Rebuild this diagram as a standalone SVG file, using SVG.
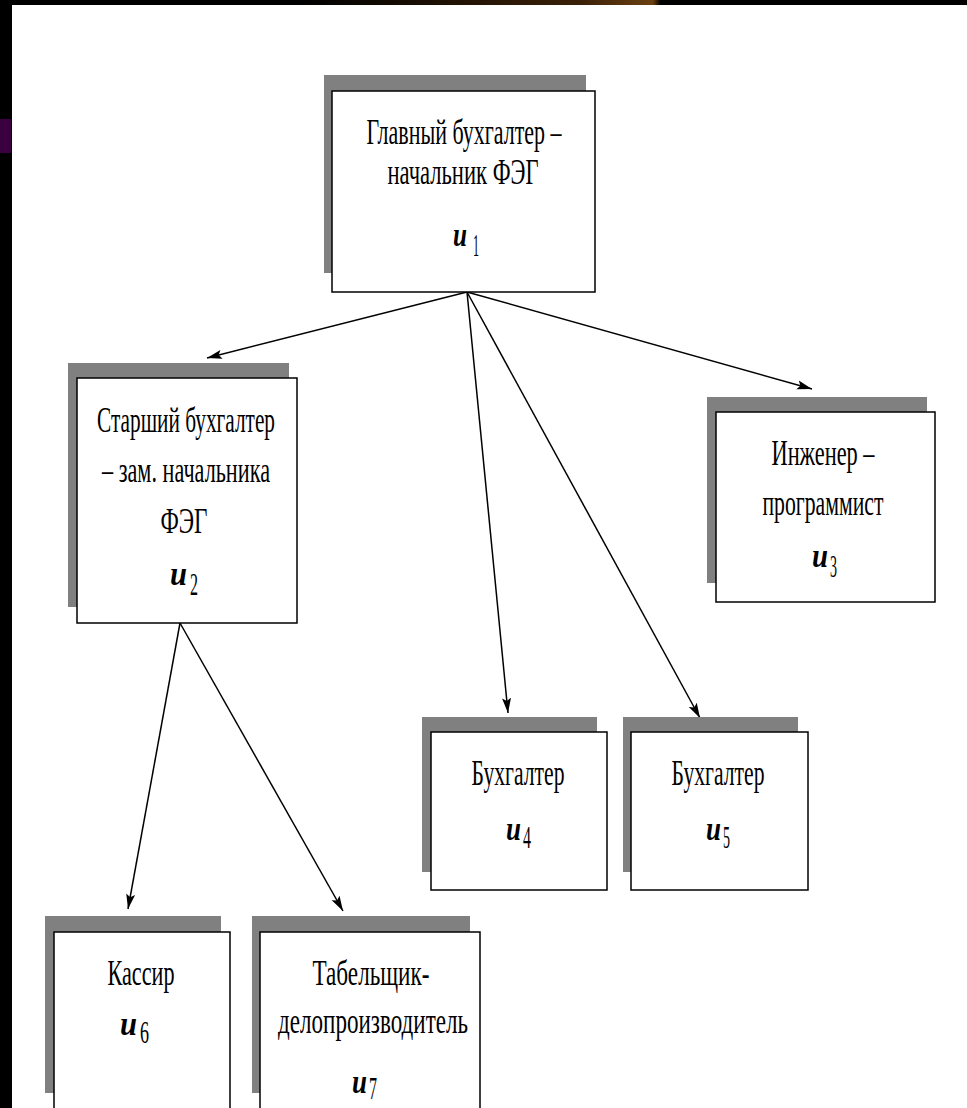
<svg xmlns="http://www.w3.org/2000/svg" width="967" height="1108" viewBox="0 0 967 1108">
  <style>
    .shadow { fill: #808080; }
    .box { fill: #ffffff; stroke: #000000; stroke-width: 1.5; }
    .t { font-family: "Liberation Serif", "Times New Roman", serif; font-size: 36px; fill: #000000; text-anchor: middle; }
    .u { font-family: "Liberation Serif", "Times New Roman", serif; font-size: 34px; font-weight: bold; font-style: italic; fill: #000000; }
    .sub { font-family: "Liberation Serif", "Times New Roman", serif; font-size: 31px; fill: #000000; }
    .edge { stroke: #000000; stroke-width: 1.5; fill: none; marker-end: url(#arrow); }
  </style>
  <defs>
    <marker id="arrow" markerUnits="userSpaceOnUse" markerWidth="16" markerHeight="10" refX="15" refY="5" orient="auto">
      <path d="M0,0.5 L15,5 L0,9.5 L3,5 z" fill="#000000"/>
    </marker>
    <linearGradient id="topGlow" x1="0" y1="0" x2="1" y2="0">
      <stop offset="0" stop-color="#000000"/>
      <stop offset="0.31" stop-color="#000000"/>
      <stop offset="0.6" stop-color="#3a2008"/>
      <stop offset="0.675" stop-color="#6b4010"/>
      <stop offset="0.683" stop-color="#000000"/>
      <stop offset="1" stop-color="#000000"/>
    </linearGradient>
  </defs>

  <!-- page -->
  <rect x="0" y="0" width="967" height="1108" fill="#ffffff"/>
  <rect x="0" y="0" width="967" height="5" fill="url(#topGlow)"/>
  <rect x="0" y="0" width="12" height="1108" fill="#000000"/>
  <rect x="0" y="119" width="11" height="34" fill="#3a0040"/>

  <!-- connectors -->
  <g id="connectors">
    <line class="edge" x1="467" y1="292" x2="207" y2="358"/>
    <line class="edge" x1="467" y1="292" x2="508" y2="713"/>
    <line class="edge" x1="467" y1="292" x2="700" y2="718"/>
    <line class="edge" x1="467" y1="292" x2="812" y2="389"/>
    <line class="edge" x1="180" y1="623" x2="128" y2="909"/>
    <line class="edge" x1="180" y1="623" x2="343" y2="911"/>
  </g>

  <!-- u1: chief accountant -->
  <g id="node-u1">
    <rect class="shadow" x="324" y="75" width="262" height="198"/>
    <rect class="box" x="332" y="91" width="263" height="201"/>
    <text class="t" x="464" y="144" textLength="195" lengthAdjust="spacingAndGlyphs">Главный бухгалтер –</text>
    <text class="t" x="463" y="184" textLength="151" lengthAdjust="spacingAndGlyphs">начальник ФЭГ</text>
    <text class="u" x="453" y="246" textLength="14" lengthAdjust="spacingAndGlyphs">u</text>
    <text class="sub" x="473" y="256" textLength="6" lengthAdjust="spacingAndGlyphs">1</text>
  </g>

  <!-- u2: senior accountant -->
  <g id="node-u2">
    <rect class="shadow" x="68" y="363" width="221" height="244"/>
    <rect class="box" x="77" y="378" width="220" height="245"/>
    <text class="t" x="186" y="432" textLength="178" lengthAdjust="spacingAndGlyphs">Старший бухгалтер</text>
    <text class="t" x="186" y="482" textLength="168" lengthAdjust="spacingAndGlyphs">– зам. начальника</text>
    <text class="t" x="184" y="533" textLength="47" lengthAdjust="spacingAndGlyphs">ФЭГ</text>
    <text class="u" x="170" y="585" textLength="17" lengthAdjust="spacingAndGlyphs">u</text>
    <text class="sub" x="190" y="595" textLength="8" lengthAdjust="spacingAndGlyphs">2</text>
  </g>

  <!-- u3: engineer-programmer -->
  <g id="node-u3">
    <rect class="shadow" x="707" y="397" width="220" height="186"/>
    <rect class="box" x="716" y="412" width="219" height="190"/>
    <text class="t" x="823" y="465" textLength="103" lengthAdjust="spacingAndGlyphs">Инженер –</text>
    <text class="t" x="823" y="515" textLength="121" lengthAdjust="spacingAndGlyphs">программист</text>
    <text class="u" x="812" y="567" textLength="16" lengthAdjust="spacingAndGlyphs">u</text>
    <text class="sub" x="830" y="577" textLength="7" lengthAdjust="spacingAndGlyphs">3</text>
  </g>

  <!-- u4: accountant -->
  <g id="node-u4">
    <rect class="shadow" x="422" y="717" width="175" height="155"/>
    <rect class="box" x="431" y="732" width="176" height="158"/>
    <text class="t" x="518" y="785" textLength="93" lengthAdjust="spacingAndGlyphs">Бухгалтер</text>
    <text class="u" x="506" y="840" textLength="15" lengthAdjust="spacingAndGlyphs">u</text>
    <text class="sub" x="523" y="848" textLength="8" lengthAdjust="spacingAndGlyphs">4</text>
  </g>

  <!-- u5: accountant -->
  <g id="node-u5">
    <rect class="shadow" x="623" y="717" width="175" height="155"/>
    <rect class="box" x="631" y="732" width="177" height="158"/>
    <text class="t" x="718" y="785" textLength="93" lengthAdjust="spacingAndGlyphs">Бухгалтер</text>
    <text class="u" x="706" y="840" textLength="15" lengthAdjust="spacingAndGlyphs">u</text>
    <text class="sub" x="723" y="848" textLength="7" lengthAdjust="spacingAndGlyphs">5</text>
  </g>

  <!-- u6: cashier -->
  <g id="node-u6">
    <rect class="shadow" x="45" y="916" width="176" height="177"/>
    <rect class="box" x="54" y="932" width="176" height="190"/>
    <text class="t" x="141" y="985" textLength="67" lengthAdjust="spacingAndGlyphs">Кассир</text>
    <text class="u" x="120" y="1035" textLength="17" lengthAdjust="spacingAndGlyphs">u</text>
    <text class="sub" x="140" y="1043" textLength="9" lengthAdjust="spacingAndGlyphs">6</text>
  </g>

  <!-- u7: timekeeper-clerk -->
  <g id="node-u7">
    <rect class="shadow" x="252" y="916" width="218" height="177"/>
    <rect class="box" x="260" y="932" width="220" height="190"/>
    <text class="t" x="371" y="985" textLength="117" lengthAdjust="spacingAndGlyphs">Табельщик-</text>
    <text class="t" x="373" y="1033" textLength="190" lengthAdjust="spacingAndGlyphs">делопроизводитель</text>
    <text class="u" x="352" y="1093" textLength="15" lengthAdjust="spacingAndGlyphs">u</text>
    <text class="sub" x="369" y="1099" textLength="8" lengthAdjust="spacingAndGlyphs">7</text>
  </g>
</svg>
